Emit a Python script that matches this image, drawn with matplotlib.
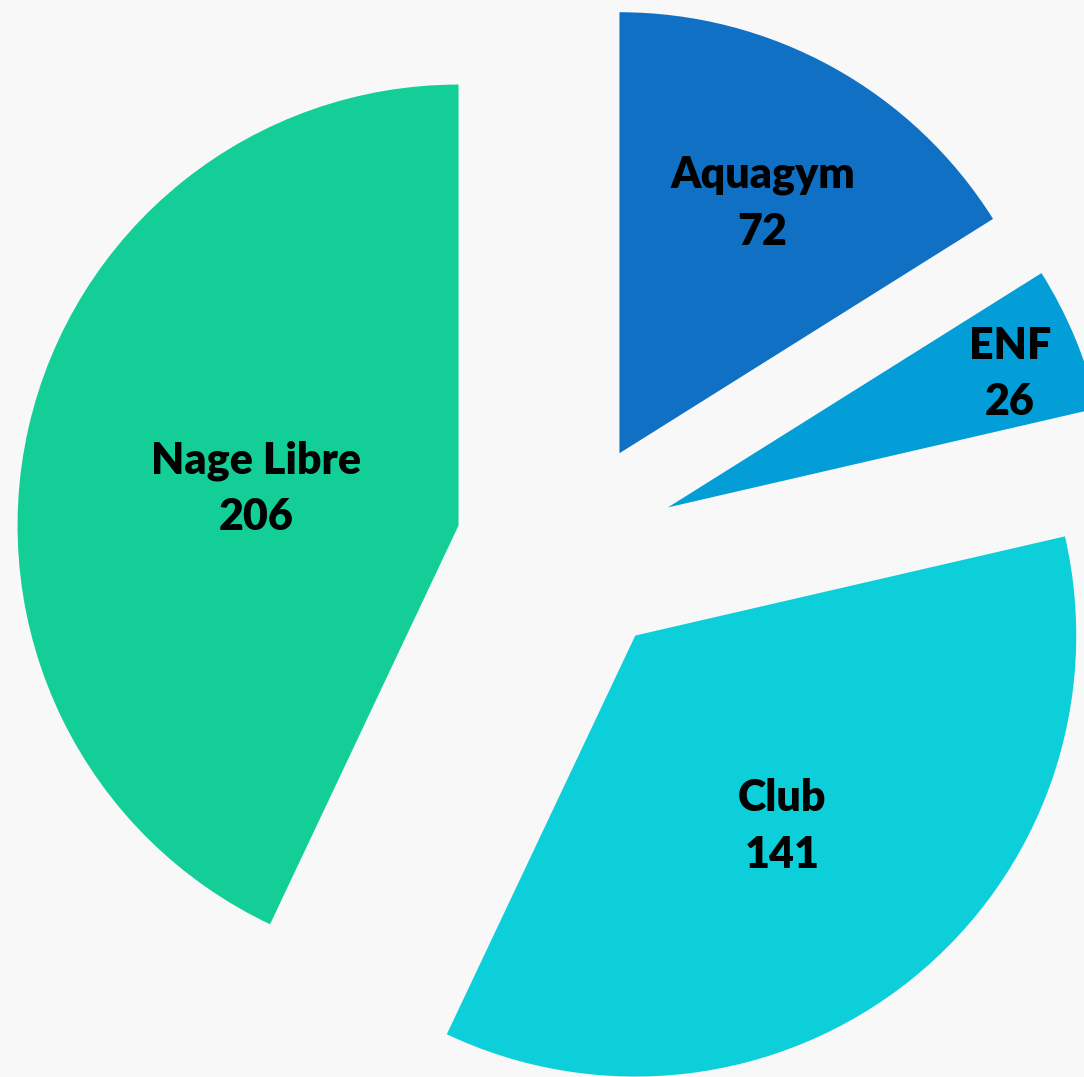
import matplotlib.pyplot as plt
import numpy as np


activites = ['Aquagym', 'ENF', 'Club', 'Nage Libre']
effectifs = [72, 26, 141, 206]
# taille des secteurs telle que dessinee sur l'image (en degres)
secteurs = [57.9, 19.1, 128.3, 154.7]

couleurs = ['#1070C4', '#039ED7', '#0DCFD9', '#13CF97']
dist_etiquettes = [0.67, 0.84, 0.53, 0.47]
fond = '#f8f8f8'

fig = plt.figure(figsize=(10.84, 10.77), dpi=100)
fig.patch.set_facecolor(fond)
ax = fig.add_axes([0, 0, 1, 1])

parts, _ = ax.pie(secteurs, colors=couleurs, startangle=90, counterclock=False,
                  explode=[0.25] * len(secteurs), radius=1,
                  wedgeprops={'linewidth': 0})

# etiquettes au centre de chaque secteur
for part, nom, n, d in zip(parts, activites, effectifs, dist_etiquettes):
    ang = np.radians((part.theta1 + part.theta2) / 2)
    cx, cy = part.center
    ax.text(cx + d * part.r * np.cos(ang), cy + d * part.r * np.sin(ang) - 0.02,
            nom + '\n' + str(n), ha='center', va='center',
            fontsize=31, fontweight='heavy', family=['Lato', 'DejaVu Sans'],
            linespacing=1.5, color='black')

ax.set_xlim(-1.2837, 1.1744)
ax.set_ylim(-1.1957, 1.2465)
ax.set_aspect('auto')
ax.axis('off')

fig.savefig('out.png', dpi=100, facecolor=fond)
